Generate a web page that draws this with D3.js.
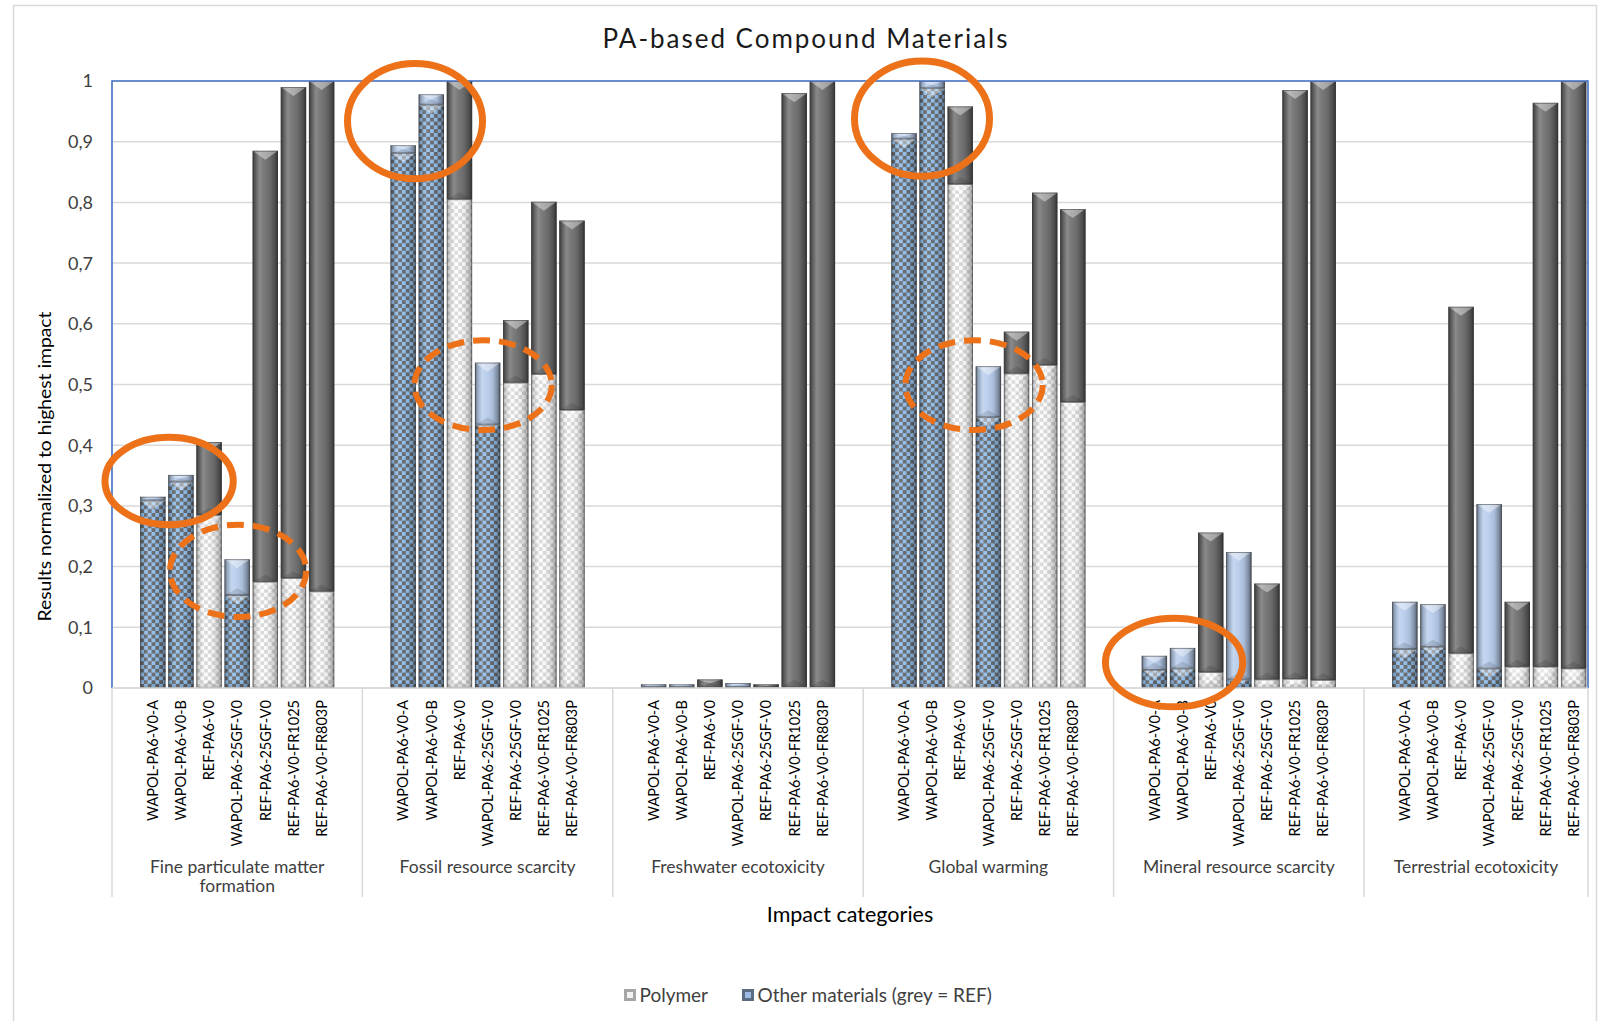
<!DOCTYPE html>
<html>
<head>
<meta charset="utf-8">
<script src="https://cdn.jsdelivr.net/npm/d3@7"></script>
<style>
  html, body { margin: 0; padding: 0; background: #fff; }
  svg { display: block; font-family: Lato, "Open Sans", sans-serif; }
</style>
</head>
<body>
<svg id="chart" width="1608" height="1021"></svg>
<script>
// ---- data ----------------------------------------------------------------
const categories = [
  "Fine particulate matter formation",
  "Fossil resource scarcity",
  "Freshwater ecotoxicity",
  "Global warming",
  "Mineral resource scarcity",
  "Terrestrial ecotoxicity"
];
const categoryLabelLines = [
  ["Fine particulate matter", "formation"],
  ["Fossil resource scarcity"],
  ["Freshwater ecotoxicity"],
  ["Global warming"],
  ["Mineral resource scarcity"],
  ["Terrestrial ecotoxicity"]
];
const products = [
  "WAPOL-PA6-V0-A",
  "WAPOL-PA6-V0-B",
  "REF-PA6-V0",
  "WAPOL-PA6-25GF-V0",
  "REF-PA6-25GF-V0",
  "REF-PA6-V0-FR1025",
  "REF-PA6-V0-FR803P"
];
// share of the impact caused by the polymer, per category (rows) and product (columns)
const polymerValues = [
  [0.309, 0.340, 0.285, 0.153, 0.175, 0.181, 0.159],
  [0.881, 0.961, 0.805, 0.434, 0.503, 0.517, 0.458],
  [0.002, 0.002, 0.002, 0.002, 0.001, 0.002, 0.002],
  [0.905, 0.988, 0.830, 0.446, 0.518, 0.532, 0.471],
  [0.030, 0.032, 0.026, 0.014, 0.014, 0.015, 0.013],
  [0.064, 0.068, 0.057, 0.032, 0.035, 0.035, 0.032]
];
// share caused by all other materials
const otherValues = [
  [0.006, 0.011, 0.120, 0.059, 0.710, 0.809, 0.841],
  [0.013, 0.017, 0.195, 0.102, 0.103, 0.284, 0.312],
  [0.004, 0.004, 0.012, 0.006, 0.005, 0.978, 0.998],
  [0.009, 0.012, 0.128, 0.084, 0.069, 0.284, 0.318],
  [0.023, 0.034, 0.230, 0.210, 0.158, 0.970, 0.987],
  [0.078, 0.070, 0.571, 0.271, 0.107, 0.929, 0.968]
];
const yTickValues = [0, 0.1, 0.2, 0.3, 0.4, 0.5, 0.6, 0.7, 0.8, 0.9, 1];
const yTickLabels = ["0", "0,1", "0,2", "0,3", "0,4", "0,5", "0,6", "0,7", "0,8", "0,9", "1"];
const seriesKeys = ["polymer", "other"];
const legendLabels = ["Polymer", "Other materials (grey = REF)"];
// highlight rings: centre given as bar slot within a category and a value
const rings = [
  { category: 0, slot: 0.58, value: 0.341, halfSlots: 2.28, halfValue: 0.072, dashed: false },
  { category: 1, slot: 0.42, value: 0.934, halfSlots: 2.40, halfValue: 0.095, dashed: false },
  { category: 3, slot: 0.64, value: 0.938, halfSlots: 2.40, halfValue: 0.095, dashed: false },
  { category: 4, slot: 0.70, value: 0.042, halfSlots: 2.44, halfValue: 0.073, dashed: false },
  { category: 0, slot: 3.03, value: 0.193, halfSlots: 2.42, halfValue: 0.076, dashed: true },
  { category: 1, slot: 2.84, value: 0.499, halfSlots: 2.44, halfValue: 0.074, dashed: true },
  { category: 3, slot: 2.49, value: 0.499, halfSlots: 2.44, halfValue: 0.074, dashed: true }
];

// ---- layout --------------------------------------------------------------
const plot = { left: 112, right: 1588, top: 81, bottom: 688 };
const groupWidth = 250.4;
const textColor = "#404040";
const gridColor = "#d9d9d9";

const svg = d3.select("#chart");
const defs = svg.append("defs");

// chart border
svg.append("rect")
  .attr("x", 13.5).attr("y", 5.5).attr("width", 1583).attr("height", 1040)
  .attr("fill", "#fff").attr("stroke", gridColor).attr("stroke-width", 1.5);

// ---- scales --------------------------------------------------------------
const x0 = d3.scaleBand().domain(categories)
  .range([plot.left, plot.left + groupWidth * categories.length]);
const x1 = d3.scaleBand().domain(products)
  .range([0, groupWidth]).paddingInner(0.1).paddingOuter(1.0);
const y = d3.scaleLinear().domain([0, 1]).range([plot.bottom, plot.top]);

// ---- fills ---------------------------------------------------------------
function checker(id, light, dark, size) {
  const p = defs.append("pattern").attr("id", id)
    .attr("width", size * 2).attr("height", size * 2)
    .attr("patternUnits", "userSpaceOnUse");
  p.append("rect").attr("width", size * 2).attr("height", size * 2).attr("fill", light);
  p.append("rect").attr("width", size).attr("height", size).attr("fill", dark);
  p.append("rect").attr("x", size).attr("y", size).attr("width", size).attr("height", size).attr("fill", dark);
}
checker("checkBlue", "#92bfec", "#66696e", 3.8);
checker("checkWhite", "#fdfdfd", "#d8d8d8", 3.8);

function shading(id, scale) {
  const g = defs.append("linearGradient").attr("id", id)
    .attr("x1", 0).attr("x2", 1).attr("y1", 0).attr("y2", 0);
  [[0, "#000", 0.5], [0.1, "#000", 0.2], [0.28, "#fff", 0.18], [0.45, "#fff", 0.06],
   [0.7, "#000", 0.08], [0.9, "#000", 0.34], [1, "#000", 0.6]].forEach(([o, c, a]) =>
    g.append("stop").attr("offset", o).attr("stop-color", c).attr("stop-opacity", a * scale));
}
shading("shadeSolid", 1);
shading("shadeChecker", 0.7);

function segmentFill(key, product) {
  const isRef = product.startsWith("REF");
  if (key === "polymer") return isRef ? "url(#checkWhite)" : "url(#checkBlue)";
  return isRef ? "#707070" : "#b8cdec";
}

// ---- gridlines -----------------------------------------------------------
svg.append("g").selectAll("line").data(yTickValues).join("line")
  .attr("x1", plot.left).attr("x2", plot.right)
  .attr("y1", d => y(d)).attr("y2", d => y(d))
  .attr("stroke", gridColor).attr("stroke-width", 1.5);

// ---- stacked bars --------------------------------------------------------
const table = [];
categories.forEach((c, ci) => products.forEach((p, pi) => {
  table.push({ category: c, product: p, polymer: polymerValues[ci][pi], other: otherValues[ci][pi] });
}));
const stacked = d3.stack().keys(seriesKeys)(table);

const bw = x1.bandwidth();
const segs = svg.append("g").selectAll("g.series").data(stacked).join("g").attr("class", "series")
  .selectAll("g.seg").data(s => s.map(d => ({ key: s.key, y0: d[0], y1: d[1], row: d.data })))
  .join("g").attr("class", "seg")
  .attr("transform", d => `translate(${x0(d.row.category) + x1(d.row.product)},0)`);

segs.append("rect")
  .attr("y", d => y(d.y1)).attr("width", bw)
  .attr("height", d => Math.max(0, y(d.y0) - y(d.y1)))
  .attr("fill", d => segmentFill(d.key, d.row.product));
segs.append("rect")
  .attr("y", d => y(d.y1)).attr("width", bw)
  .attr("height", d => Math.max(0, y(d.y0) - y(d.y1)))
  .attr("fill", d => d.key === "polymer" ? "url(#shadeChecker)" : "url(#shadeSolid)");
// bevel: light wedge on top, darker wedge at the foot of each segment
segs.append("path")
  .attr("d", d => {
    const t = y(d.y1), h = y(d.y0) - y(d.y1), dd = Math.min(9, h / 2);
    return `M0,${t}H${bw}L${bw / 2},${t + dd}Z`;
  })
  .attr("fill", "#fff").attr("fill-opacity", 0.4);
segs.append("path")
  .attr("d", d => {
    const b = y(d.y0), h = y(d.y0) - y(d.y1), dd = Math.min(7, h / 2);
    return `M0,${b}H${bw}L${bw / 2},${b - dd}Z`;
  })
  .attr("fill", "#000").attr("fill-opacity", 0.12);
segs.append("rect")
  .attr("x", 0.4).attr("y", d => y(d.y1) + 0.4).attr("width", bw - 0.8)
  .attr("height", d => Math.max(0, y(d.y0) - y(d.y1) - 0.8))
  .attr("fill", "none").attr("stroke", "#3c3c3c").attr("stroke-opacity", 0.65).attr("stroke-width", 0.8);

// plot frame (top, left, right) and baseline
svg.append("path")
  .attr("d", `M${plot.left},${plot.bottom}V${plot.top}H${plot.right}V${plot.bottom}`)
  .attr("fill", "none").attr("stroke", "#4472c4").attr("stroke-width", 1.6);
svg.append("line")
  .attr("x1", plot.left).attr("x2", plot.right).attr("y1", plot.bottom).attr("y2", plot.bottom)
  .attr("stroke", gridColor).attr("stroke-width", 1.5);

// ---- y axis --------------------------------------------------------------
svg.append("g").selectAll("text").data(yTickValues).join("text")
  .attr("x", 93).attr("y", d => y(d)).attr("dy", "0.36em")
  .attr("text-anchor", "end").attr("fill", textColor).attr("font-size", 18)
  .text((d, i) => yTickLabels[i]);

svg.append("text")
  .attr("transform", `translate(51,${(plot.top + plot.bottom) / 2 + 82}) rotate(-90)`)
  .attr("text-anchor", "middle").attr("fill", "#000").attr("font-size", 18)
  .attr("textLength", 310).attr("lengthAdjust", "spacingAndGlyphs")
  .text("Results normalized to highest impact");

// ---- category axis -------------------------------------------------------
const sepX = categories.map(c => x0(c)).concat([plot.right]);
svg.append("g").selectAll("line").data(sepX).join("line")
  .attr("x1", d => d).attr("x2", d => d).attr("y1", plot.bottom).attr("y2", 897)
  .attr("stroke", gridColor).attr("stroke-width", 1.5);

const prodLabels = [];
categories.forEach(c => products.forEach(p => prodLabels.push({ c, p })));
svg.append("g").selectAll("text").data(prodLabels).join("text")
  .attr("transform", d => `translate(${x0(d.c) + x1(d.p) + bw / 2},700) rotate(-90)`)
  .attr("dy", "0.36em").attr("text-anchor", "end")
  .attr("fill", "#000").attr("font-size", 14.5)
  .text(d => d.p);

const catG = svg.append("g").selectAll("text").data(categories).join("text")
  .attr("x", c => (x0(c) + Math.min(x0(c) + x0.bandwidth(), plot.right)) / 2)
  .attr("y", 873).attr("text-anchor", "middle").attr("fill", textColor).attr("font-size", 17.5);
catG.selectAll("tspan").data((c, i) => categoryLabelLines[i]).join("tspan")
  .attr("x", function () { return d3.select(this.parentNode).attr("x"); })
  .attr("dy", (d, i) => i === 0 ? 0 : 19)
  .text(d => d);

svg.append("text")
  .attr("x", (plot.left + plot.right) / 2).attr("y", 922)
  .attr("text-anchor", "middle").attr("fill", "#000").attr("font-size", 21.5)
  .text("Impact categories");

// ---- title ---------------------------------------------------------------
svg.append("text")
  .attr("x", 805).attr("y", 48)
  .attr("text-anchor", "middle").attr("fill", "#1a1a1a").attr("font-size", 26)
  .attr("textLength", 405).attr("lengthAdjust", "spacing")
  .text("PA-based Compound Materials");

// ---- highlight rings -----------------------------------------------------
svg.append("g").selectAll("ellipse").data(rings).join("ellipse")
  .attr("cx", d => x0(categories[d.category]) + x1(products[0]) + bw / 2 + d.slot * x1.step())
  .attr("cy", d => y(d.value))
  .attr("rx", d => d.halfSlots * x1.step())
  .attr("ry", d => y(0) - y(d.halfValue))
  .attr("fill", "none").attr("stroke", "#ec7118")
  .attr("stroke-width", d => d.dashed ? 6 : 7)
  .attr("stroke-dasharray", d => d.dashed ? "17 9" : null);

// ---- legend --------------------------------------------------------------
const legendX = [624, 742];
const lg = svg.append("g").selectAll("g").data(legendLabels).join("g")
  .attr("transform", (d, i) => `translate(${legendX[i]},989)`);
lg.append("rect").attr("width", 12).attr("height", 12)
  .attr("fill", (d, i) => i === 0 ? "#a6a6a6" : "#5b6b82");
lg.append("rect").attr("x", 3).attr("y", 3).attr("width", 6).attr("height", 6)
  .attr("fill", (d, i) => i === 0 ? "#f2f2f2" : "#9dbbe6");
lg.append("text").attr("x", 15.5).attr("y", 6).attr("dy", "0.36em")
  .attr("fill", textColor).attr("font-size", 19).text(d => d);
</script>
</body>
</html>
